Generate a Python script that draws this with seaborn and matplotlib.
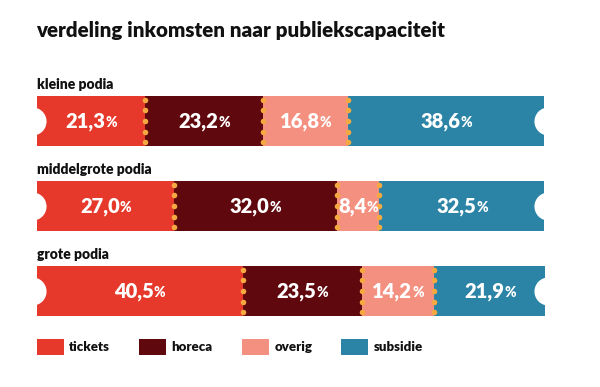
import pandas as pd
import numpy as np
import matplotlib.pyplot as plt
import matplotlib.transforms as mtransforms
from matplotlib.patches import Patch
import seaborn as sns

sns.set_theme(style='white')
plt.rcParams['font.family'] = ['Lato', 'DejaVu Sans']

# data
categories = ['kleine podia', 'middelgrote podia', 'grote podia']
series = ['tickets', 'horeca', 'overig', 'subsidie']
tickets = [21.3, 27.0, 40.5]
horeca = [23.2, 32.0, 23.5]
overig = [16.8, 8.4, 14.2]
subsidie = [38.6, 32.5, 21.9]
colors = ['#e6392b', '#5f080d', '#f4907f', '#2b84a6']
dot_color = '#f7a941'

df = pd.DataFrame({'podium': categories, 'tickets': tickets, 'horeca': horeca,
                   'overig': overig, 'subsidie': subsidie})
cum = df[series].cumsum(axis=1)
left = cum - df[series]

fig = plt.figure(figsize=(6, 3.87), dpi=100)
# x=0 at pixel 37, x=100 at pixel 545; rows centred at 121 / 206 / 291 px
ax = fig.add_axes([37/600, 1 - 333.5/387, 508/600, 255/387])

# stacked bars: draw cumulative totals from the back to the front
for s, c in reversed(list(zip(series, colors))):
    tmp = pd.DataFrame({'podium': categories, 'value': cum[s]})
    sns.barplot(data=tmp, x='value', y='podium', color=c, saturation=1,
                width=0.58, linewidth=0, ax=ax, orient='h')

ax.set_xlim(0, 100)
ax.set_ylim(2.5, -0.5)
ax.axis('off')

# ticket notches at both ends
for i in range(len(categories)):
    ax.scatter([-1.0, 100.6], [i, i], s=410, color='white', zorder=5,
               clip_on=False, linewidths=0)

# perforation dots between segments
offs = np.array([-0.25, -0.125, 0, 0.125, 0.25])
for i in range(len(categories)):
    for s in series[:-1]:
        ax.scatter(np.full(5, cum.loc[i, s]), i + offs, s=16, color=dot_color,
                   zorder=6, linewidths=0)

# row labels
for i, name in enumerate(categories):
    ax.text(0, i - 0.43, name, ha='left', va='center', fontsize=10,
            fontweight='heavy', color='#111111')

# value labels: big number + small percent sign, centred as a group
pairs = []
for i in range(len(categories)):
    for s in series:
        v = df.loc[i, s]
        xc = left.loc[i, s] + v / 2
        num = f'{v:.1f}'.replace('.', ',')
        t1 = ax.text(xc, i, num, ha='left', va='center', fontsize=14.5,
                     fontweight='heavy', color='white', zorder=7)
        t2 = ax.text(xc, i + 0.02, '%', ha='left', va='center', fontsize=10,
                     fontweight='heavy', color='white', zorder=7)
        pairs.append((t1, t2))

fig.canvas.draw()
r = fig.canvas.get_renderer()
for t1, t2 in pairs:
    w1 = t1.get_window_extent(r).width
    w2 = t2.get_window_extent(r).width
    tot = w1 + w2
    t1.set_transform(mtransforms.offset_copy(ax.transData, fig, x=-tot / 2, units='dots'))
    t2.set_transform(mtransforms.offset_copy(ax.transData, fig, x=-tot / 2 + w1, units='dots'))

fig.text(36/600, 1 - 31/387, 'verdeling inkomsten naar publiekscapaciteit',
         ha='left', va='center', fontsize=14.8, fontweight='heavy', color='#111111')

handles = [Patch(facecolor=c, edgecolor='none') for c in colors]
leg = fig.legend(handles, series, loc='upper left', ncol=4, frameon=False,
                 bbox_to_anchor=(37/600, 1 - 339/387), borderaxespad=0, borderpad=0,
                 handlelength=2.05, handleheight=1.5, handletextpad=0.4,
                 columnspacing=2.2, prop={'weight': 'heavy', 'size': 9.5})
for t in leg.get_texts():
    t.set_color('#111111')

fig.savefig('out.png', dpi=100, facecolor='white')
